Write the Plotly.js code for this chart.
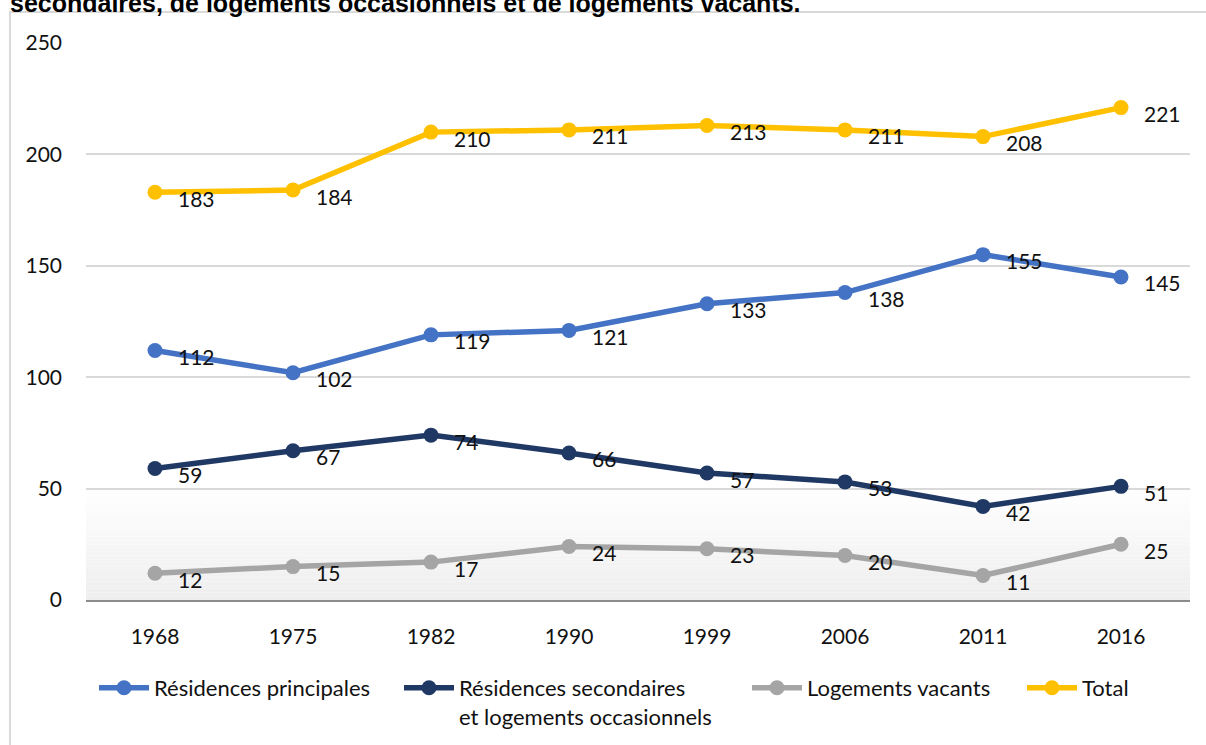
<!DOCTYPE html>
<html>
<head>
<meta charset="utf-8">
<script src="https://cdn.plot.ly/plotly-3.0.1.min.js"></script>
<style>html,body{margin:0;padding:0;background:#fff;overflow:hidden}#chart{width:1206px;height:745px}</style>
</head>
<body>
<div id="chart"></div>
<script>
const years = ['1968','1975','1982','1990','1999','2006','2011','2016'];
const principales = [112,102,119,121,133,138,155,145];
const secondaires = [59,67,74,66,57,53,42,51];
const vacants = [12,15,17,24,23,20,11,25];
const total = [183,184,210,211,213,211,208,221];
const seriesNames = ['Résidences principales','Résidences secondaires<br>et logements occasionnels','Logements vacants','Total'];
const seriesColors = ['#4472C4','#203864','#A5A5A5','#FFC000'];
const titleText = 'secondaires, de logements occasionnels et de logements vacants.';

const allSeries = [principales, secondaires, vacants, total];
const legendIds = ['legend','legend2','legend3','legend4'];

const traces = allSeries.map((vals, i) => ({
  type: 'scatter', mode: 'lines+markers',
  x: years, y: vals, name: seriesNames[i],
  line: {color: seriesColors[i], width: 5.5},
  marker: {color: seriesColors[i], size: 15},
  legend: legendIds[i],
  hoverinfo: 'skip'
}));

const annotations = [];
allSeries.forEach(vals => {
  vals.forEach((v, j) => {
    annotations.push({
      x: j, y: v, xref: 'x', yref: 'y', text: String(v),
      showarrow: false, xanchor: 'left', yanchor: 'middle',
      xshift: 21, yshift: -6,
      font: {family: 'Lato, sans-serif', size: 21, color: '#111'}
    });
  });
});
annotations.push({
  xref: 'paper', yref: 'paper', x: -0.0707, y: 1.0431, xanchor: 'left', yanchor: 'bottom',
  text: '<b>' + titleText + '</b>', showarrow: false,
  font: {family: 'Liberation Sans, Arial, sans-serif', size: 25, color: '#000'}
});

// gradient band below 50
const shapes = [];
const steps = 30;
for (let k = 0; k < steps; k++) {
  const t = k / steps;
  const c = Math.round(238 + (255 - 238) * t);
  shapes.push({type: 'rect', xref: 'paper', yref: 'y', x0: 0, x1: 1,
    y0: 50 * k / steps, y1: 50 * (k + 1) / steps,
    fillcolor: `rgb(${c},${c},${c})`, line: {width: 0}, layer: 'below'});
}
// outer chart border (partially visible)
shapes.push({type: 'rect', xref: 'paper', yref: 'paper', x0: -0.0688, x1: 1.5, y0: -0.6, y1: 1.0557,
  line: {color: '#d9d9d9', width: 2}, fillcolor: 'rgba(0,0,0,0)', layer: 'above'});

const legendBase = {orientation: 'h', xanchor: 'left', yanchor: 'top', yref: 'container', y: 0.1047,
  bgcolor: 'rgba(0,0,0,0)', font: {family: 'Lato, sans-serif', size: 22, color: '#111'},
  itemwidth: 50, valign: 'top', itemclick: false, itemdoubleclick: false};
const legendPx = [94, 399, 747, 1022];
const layout = {
  width: 1206, height: 745,
  margin: {l: 86, r: 16, t: 43, b: 145},
  paper_bgcolor: '#fff', plot_bgcolor: 'rgba(0,0,0,0)',
  showlegend: true,
  xaxis: {type: 'category', range: [-0.5, 7.5], showgrid: false, zeroline: false,
    showline: true, linecolor: '#8c8c8c', linewidth: 2, ticks: '',
    ticklabelstandoff: 17, automargin: false,
    tickfont: {family: 'Lato, sans-serif', size: 21, color: '#111'}},
  yaxis: {range: [0, 250], dtick: 50, tick0: 0, showgrid: true, gridcolor: '#d9d9d9', gridwidth: 2,
    zeroline: false, showline: false, ticks: '', ticklabelstandoff: 23, automargin: false,
    tickfont: {family: 'Lato, sans-serif', size: 21, color: '#111'}},
  annotations: annotations,
  shapes: shapes
};
legendIds.forEach((id, i) => {
  layout[id] = Object.assign({}, legendBase, {x: (legendPx[i] - 86) / 1104});
});

Plotly.newPlot('chart', traces, layout, {staticPlot: true, displayModeBar: false});
</script>
</body>
</html>
